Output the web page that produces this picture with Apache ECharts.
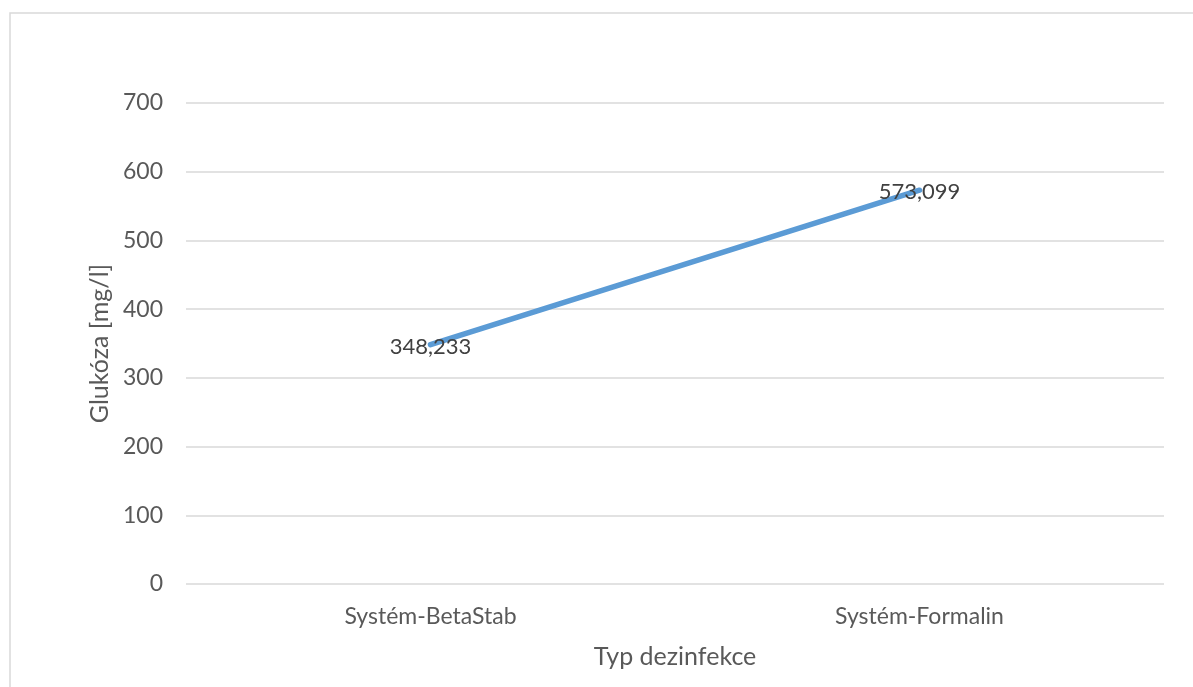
<!DOCTYPE html>
<html>
<head>
<meta charset="utf-8">
<script src="https://cdn.jsdelivr.net/npm/echarts@6/dist/echarts.min.js"></script>
<style>
  html, body { margin: 0; padding: 0; background: #fff; }
  #chart { width: 1193px; height: 687px; }
</style>
</head>
<body>
<div id="chart"></div>
<script>
// Glucose concentration per disinfection system
const categories = ['Systém-BetaStab', 'Systém-Formalin'];
const glucose = [348.233, 573.099];
const yTicks = [0, 100, 200, 300, 400, 500, 600, 700];

const FONT = 'Lato, "Open Sans", sans-serif';
const TEXT = '#595959';

const chart = echarts.init(document.getElementById('chart'), null, { renderer: 'canvas' });
chart.setOption({
  animation: false,
  backgroundColor: '#ffffff',
  graphic: [{
    type: 'rect',
    shape: { x: 10, y: 13, width: 1300, height: 800 },
    style: { fill: 'none', stroke: '#d9d9d9', lineWidth: 1.5 },
    silent: true,
    z: -1
  }],
  grid: { left: 186, right: 29, top: 103, bottom: 103 },
  xAxis: {
    type: 'category',
    data: categories,
    boundaryGap: true,
    name: 'Typ dezinfekce',
    nameLocation: 'middle',
    nameGap: 60,
    nameTextStyle: { color: TEXT, fontSize: 25, fontFamily: FONT },
    axisLine: { show: false },
    axisTick: { show: false },
    axisLabel: { color: TEXT, fontSize: 23, fontFamily: FONT, margin: 21 },
    splitLine: { show: false }
  },
  yAxis: {
    type: 'value',
    min: yTicks[0],
    max: yTicks[yTicks.length - 1],
    interval: 100,
    name: 'Glukóza [mg/l]',
    nameLocation: 'middle',
    nameGap: 60,
    nameRotate: 90,
    nameTextStyle: { color: TEXT, fontSize: 25, fontFamily: FONT },
    axisLine: { show: false },
    axisTick: { show: false },
    axisLabel: { color: TEXT, fontSize: 23, fontFamily: FONT, margin: 23 },
    splitLine: { lineStyle: { color: '#d9d9d9', width: 1.5 } }
  },
  series: [{
    type: 'line',
    data: glucose,
    symbol: 'circle',
    symbolSize: 4,
    showSymbol: true,
    itemStyle: { color: '#5b9bd5' },
    lineStyle: { color: '#5b9bd5', width: 5.5, cap: 'round' },
    label: {
      show: true,
      position: 'inside',
      offset: [0, 2],
      color: '#404040',
      fontSize: 22,
      fontFamily: FONT,
      formatter: p => String(p.value).replace('.', ',')
    }
  }]
});
</script>
</body>
</html>
